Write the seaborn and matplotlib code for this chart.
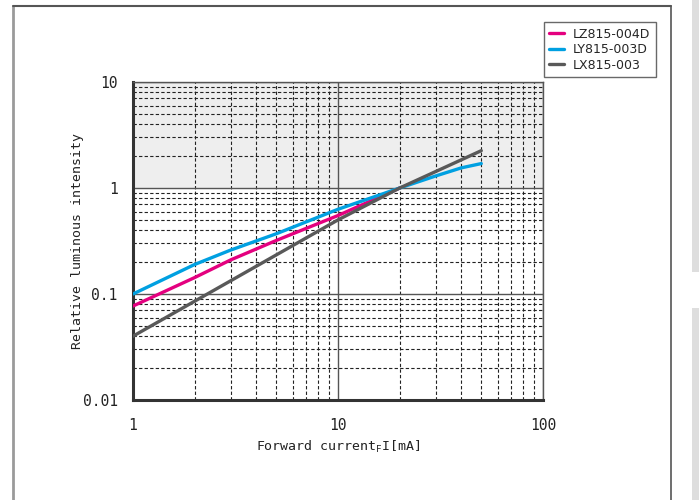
import matplotlib

matplotlib.use("Agg")
import matplotlib.pyplot as plt
from matplotlib.lines import Line2D
from matplotlib.patches import Rectangle
from matplotlib.ticker import FixedLocator, LogLocator, NullFormatter
import pandas as pd
import seaborn as sns

SERIES_NAMES = ["LZ815-004D", "LY815-003D", "LX815-003"]
SERIES_COLORS = ["#e4007f", "#00a0e1", "#595959"]

LZ_CURRENT = [1, 2, 3, 5, 10, 20]
LZ_INTENSITY = [0.077, 0.143, 0.21, 0.32, 0.55, 1.0]

LY_CURRENT = [1, 2, 3, 5, 10, 20, 30, 40, 50]
LY_INTENSITY = [0.1, 0.19, 0.26, 0.37, 0.63, 1.0, 1.3, 1.55, 1.7]

LX_CURRENT = [1, 10, 20, 50]
LX_INTENSITY = [0.04, 0.5, 1.0, 2.25]

X_TICKS = [1, 10, 100]
X_TICK_LABELS = ["1", "10", "100"]
Y_TICKS = [0.01, 0.1, 1, 10]
Y_TICK_LABELS = ["0.01", "0.1", "1", "10"]

frames = []
for name, xs, ys in zip(
    SERIES_NAMES,
    [LZ_CURRENT, LY_CURRENT, LX_CURRENT],
    [LZ_INTENSITY, LY_INTENSITY, LX_INTENSITY],
):
    frames.append(pd.DataFrame({"current": xs, "intensity": ys, "series": name}))
data = pd.concat(frames, ignore_index=True)

sns.set_style("white")
plt.rcParams["font.family"] = ["DejaVu Sans Mono", "DejaVu Sans"]

fig = plt.figure(figsize=(6.99, 5.0), dpi=100)
ax = fig.add_axes([133 / 699, 0.2, 410 / 699, 318 / 500])

ax.set_xscale("log")
ax.set_yscale("log")
ax.set_xlim(1, 100)
ax.set_ylim(0.01, 10)

ax.axhspan(1, 10, color="#eeeeee", zorder=0)

sns.lineplot(
    data=data,
    x="current",
    y="intensity",
    hue="series",
    hue_order=SERIES_NAMES,
    palette=SERIES_COLORS,
    estimator=None,
    linewidth=2.4,
    legend=False,
    ax=ax,
    zorder=3,
)

# grid: solid at decades, dashed between
ax.xaxis.set_minor_locator(LogLocator(base=10, subs=range(2, 10)))
ax.yaxis.set_minor_locator(LogLocator(base=10, subs=range(2, 10)))
ax.xaxis.set_minor_formatter(NullFormatter())
ax.yaxis.set_minor_formatter(NullFormatter())
ax.grid(which="minor", color="#222222", linestyle=(0, (3, 2)), linewidth=0.8, zorder=1)
ax.grid(which="major", color="#555555", linestyle="-", linewidth=1.0, zorder=1)
ax.set_axisbelow(True)

ax.xaxis.set_major_locator(FixedLocator(X_TICKS))
ax.yaxis.set_major_locator(FixedLocator(Y_TICKS))
ax.set_xticklabels(X_TICK_LABELS)
ax.set_yticklabels(Y_TICK_LABELS)
ax.tick_params(which="major", direction="out", length=10, width=1.0, color="#555555",
               labelsize=10.5, labelcolor="#222222", pad=3)
ax.tick_params(which="minor", length=0)
ax.tick_params(axis="y", pad=1)

for side in ["left", "bottom"]:
    ax.spines[side].set_linewidth(2.2)
    ax.spines[side].set_color("#333333")
for side in ["top", "right"]:
    ax.spines[side].set_linewidth(1.0)
    ax.spines[side].set_color("#555555")
    ax.spines[side].set_visible(True)

ax.set_xlabel("Forward current$\\mathregular{_F}$I[mA]", fontsize=9.5, color="#222222", labelpad=4)
ax.set_ylabel("Relative luminous intensity", fontsize=9.5, color="#222222", va="center")
ax.yaxis.set_label_coords((77 - 133) / 410, 0.5)

handles = [Line2D([0], [0], color=c, linewidth=2.4) for c in SERIES_COLORS]
leg = fig.legend(
    handles,
    SERIES_NAMES,
    loc="upper right",
    bbox_to_anchor=(656 / 699, 1 - 22 / 500),
    frameon=True,
    fancybox=False,
    handlelength=1.2,
    handletextpad=0.7,
    labelspacing=0.2,
    borderpad=0.45,
    borderaxespad=0,
    prop={"family": "DejaVu Sans", "size": 9},
)
leg.get_frame().set_edgecolor("#444444")
leg.get_frame().set_linewidth(1.0)

# page frame around the chart and side bars
fig.add_artist(Line2D([13 / 699, 13 / 699], [0, 1 - 6 / 500], transform=fig.transFigure,
                      color="#9a9a9a", linewidth=2))
fig.add_artist(Line2D([13 / 699, 671 / 699], [1 - 6 / 500, 1 - 6 / 500], transform=fig.transFigure,
                      color="#555555", linewidth=1.5))
fig.add_artist(Line2D([671 / 699, 671 / 699], [0, 1 - 6 / 500], transform=fig.transFigure,
                      color="#555555", linewidth=1.2))
fig.add_artist(Rectangle((692 / 699, 1 - 272 / 500), 7 / 699, 272 / 500, transform=fig.transFigure,
                         color="#dedede", linewidth=0))
fig.add_artist(Rectangle((692 / 699, 0), 7 / 699, 1 - 308 / 500, transform=fig.transFigure,
                         color="#dedede", linewidth=0))

fig.savefig("out.png", dpi=100)
